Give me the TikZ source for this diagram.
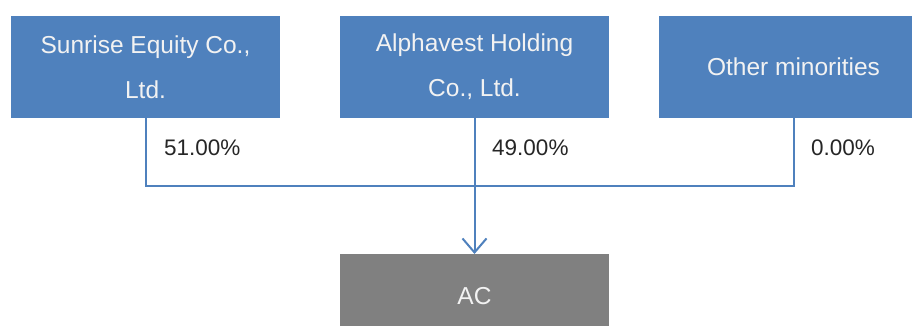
\documentclass[tikz,border=0pt]{standalone}
\usepackage{fontspec}
\setmainfont{Liberation Sans}
\usetikzlibrary{arrows.meta}
\definecolor{boxblue}{HTML}{4F81BD}
\definecolor{boxgray}{HTML}{808080}
\definecolor{boxtext}{HTML}{F2F2F2}
\tikzset{
  x=1pt, y=-1pt,
  ownerbox/.style={fill=boxblue, draw=none, minimum width=269pt, minimum height=102pt,
    inner sep=0pt, text=boxtext, align=center, font=\fontsize{24.5}{45}\selectfont},
  acbox/.style={fill=boxgray, draw=none, minimum width=269pt, minimum height=102pt,
    inner sep=0pt, text=boxtext, font=\fontsize{24.5}{28}\selectfont},
  pct/.style={anchor=west, inner sep=0pt, text=black!85, font=\fontsize{22.5}{26}\selectfont},
  link/.style={draw=boxblue, line width=2pt},
}
\begin{document}
\begin{tikzpicture}
\useasboundingbox (0,0) rectangle (912,326);
\clip (0,0) rectangle (912,326);
\fill[white] (0,0) rectangle (912,326);
\node[ownerbox] (s) at (145.5,67) {Sunrise Equity Co.,\\Ltd.};
\node[ownerbox] (a) at (474.5,67) {Alphavest Holding\\Co., Ltd.};
\node[ownerbox] (o) at (793.5,67) {Other minorities};
\node[acbox, anchor=north] (ac) at (474.5,254) {};
\node[text=boxtext, font=\fontsize{24.5}{28}\selectfont] (actext) at (474.5,296) {AC};
\coordinate (j) at (474.5,186);
\node[pct] (p1) at (164,148) {51.00\%};
\node[pct] (p2) at (492,148) {49.00\%};
\node[pct] (p3) at (811,148) {0.00\%};
\draw[link] (s.south) |- (j);
\draw[link] (o.south) |- (j);
\draw[link, -{Straight Barb[length=14pt, width=24pt, line width=2pt]}] (a.south) -- (ac.north);
\end{tikzpicture}
\end{document}
